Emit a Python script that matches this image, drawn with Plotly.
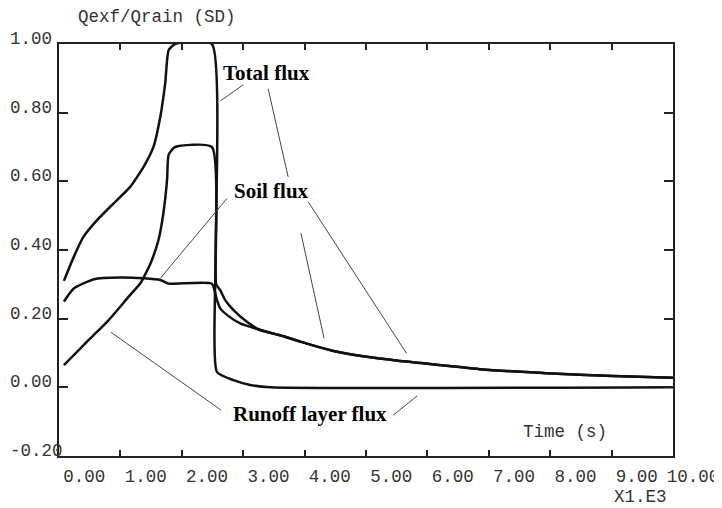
import plotly.graph_objects as go

# ---- data (time in 1e3 s, Qexf/Qrain) ----
total_x = [0.08, 0.24, 0.40, 0.62, 0.89, 1.16, 1.38, 1.54, 1.65, 1.73, 1.785, 1.89, 2.49,
           2.56, 2.626, 2.707, 2.842, 3.06, 3.276, 3.655, 3.93, 4.47, 5.01, 5.55, 5.77, 6.85, 7.94, 9.02, 10.0]
total_y = [0.31, 0.38, 0.439, 0.487, 0.536, 0.584, 0.643, 0.701, 0.788, 0.886, 0.982, 1.0, 1.0,
           0.30, 0.283, 0.254, 0.225, 0.191, 0.167, 0.149, 0.133, 0.106, 0.089, 0.077, 0.073, 0.053, 0.041, 0.033, 0.028]

soil_x = [0.08, 0.24, 0.57, 1.0, 1.38, 1.65, 1.785, 2.49, 2.572, 2.626, 2.735, 2.951, 3.276, 3.655, 3.93,
          4.47, 5.01, 5.55, 5.77, 6.85, 7.94, 9.02, 10.0]
soil_y = [0.25, 0.288, 0.315, 0.32, 0.3175, 0.3125, 0.302, 0.302, 0.254, 0.230, 0.211, 0.186, 0.167, 0.149, 0.133,
          0.106, 0.089, 0.077, 0.073, 0.053, 0.041, 0.033, 0.028]

runoff_x = [0.08, 0.485, 0.81, 1.135, 1.325, 1.49, 1.62, 1.70, 1.76, 1.785, 1.89, 2.49, 2.572, 2.842, 3.114, 3.44, 10.0]
runoff_y = [0.065, 0.138, 0.196, 0.264, 0.303, 0.361, 0.429, 0.507, 0.604, 0.677, 0.70, 0.70, 0.045, 0.021, 0.007, 0.0, 0.0]

NB = "\u00a0"
x_tickvals = [0, 1, 2, 3, 4, 5, 6, 7, 8, 9, 10]
x_ticktext = ["0.00", "1.00", "2.00", "3.00", "4.00", "5.00", "6.00", "7.00", "8.00", "9.00", "10.00"]
y_tickvals = [-0.2, 0.0, 0.2, 0.4, 0.6, 0.8, 1.0]
y_ticktext = ["-0.20", "0.00", "0.20", "0.40", "0.60", "0.80", "1.00"]

# pad labels to equal width so the old-style alignment is reproduced
x_ticktext_shown = [t if len(t) >= 5 else NB + t for t in x_ticktext]
y_ticktext_shown = [t if len(t) >= 5 else t + NB for t in y_ticktext]

mono = "Liberation Mono, Courier New, monospace"
serif = "Liberation Serif, Times New Roman, serif"
ink = "#111111"

fig = go.Figure()
for xs, ys, nm in [(total_x, total_y, "Total flux"), (soil_x, soil_y, "Soil flux"), (runoff_x, runoff_y, "Runoff layer flux")]:
    fig.add_trace(go.Scatter(x=xs, y=ys, mode="lines", name=nm,
                             line=dict(color=ink, width=2.5, shape="spline", smoothing=0.5),
                             showlegend=False, hoverinfo="skip"))

# leader lines
leaders = [
    (3.0, 0.881, 2.626, 0.834),
    (3.407, 0.869, 3.732, 0.613),
    (4.06, 0.54, 5.66, 0.099),
    (3.94, 0.449, 4.317, 0.143),
    (2.735, 0.55, 1.65, 0.3175),
    (0.849, 0.160, 2.637, -0.066),
    (5.444, -0.081, 5.834, -0.025),
]
for x0, y0, x1, y1 in leaders:
    fig.add_shape(type="line", x0=x0, y0=y0, x1=x1, y1=y1, xref="x", yref="y",
                  line=dict(color="#444444", width=1))

labels = [("Total flux", 3.379, 0.9155), ("Soil flux", 3.467, 0.572), ("Runoff layer flux", 4.085, -0.078)]
for t, x, y in labels:
    fig.add_annotation(text="<b>" + t + "</b>", x=x, y=y, xref="x", yref="y", showarrow=False,
                       xanchor="center", yanchor="middle",
                       font=dict(family=serif, size=21, color="#000000"))

# page is offset by the 8px body margin: plot area in div coords is l=50.5, t=36, 615x412
PW, PH = 615.0, 412.0
def px(xp):   # page x -> paper
    return (xp - 8 - 50.5) / PW
def py(yp):   # page y -> paper
    return (36 + PH - (yp - 8)) / PH

fig.add_annotation(text="Time (s)", x=7.531, y=-0.129, xref="x", yref="y", showarrow=False,
                   xanchor="left", yanchor="middle", font=dict(family=mono, size=17.5, color="#333333"))
fig.add_annotation(text="Qexf/Qrain (SD)", x=px(76), y=py(17), xref="paper", yref="paper", showarrow=False,
                   xanchor="left", yanchor="middle", font=dict(family=mono, size=17.5, color="#333333"))
fig.add_annotation(text="X1.E3", x=px(612), y=py(509), xref="paper", yref="paper",
                   showarrow=False, xanchor="left", yanchor="bottom", font=dict(family=mono, size=17.5, color="#333333"))

axis_common = dict(showgrid=False, zeroline=False, showline=True, mirror="ticks", linecolor="#222222",
                   linewidth=2, ticks="inside", tickwidth=2, tickcolor="#222222", automargin=False,
                   ticklabeloverflow="allow",
                   tickfont=dict(family=mono, size=17.5, color="#333333"))

fig.update_xaxes(range=[0, 10], tickmode="array", tickvals=x_tickvals, ticktext=x_ticktext_shown,
                 ticklen=6, ticklabelshift=20, ticklabelstandoff=3, **axis_common)
fig.update_yaxes(range=[-0.2, 1.0], tickmode="array", tickvals=y_tickvals, ticktext=y_ticktext_shown,
                 ticklen=9, ticklabelshift=-6, ticklabelstandoff=-9, **axis_common)

fig.update_layout(width=722, height=508, margin=dict(l=50.5, r=56.5, t=36, b=60, pad=0),
                  paper_bgcolor="white", plot_bgcolor="white")

fig.write_html("out.html")
